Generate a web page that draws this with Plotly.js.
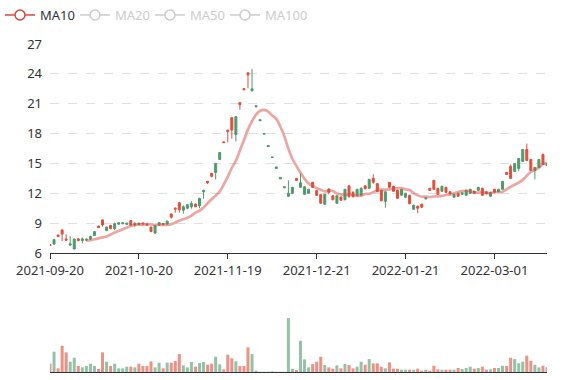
<!DOCTYPE html>
<html><head><meta charset="utf-8">
<script src="https://cdn.plot.ly/plotly-3.0.1.min.js"></script>
<style>html,body{margin:0;padding:0;background:#fff}#chart{width:577px;height:380px}</style>
</head><body><div id="chart"></div>
<script>
// trading calendar: weekdays from 2021-09-20, market holidays skipped
const holidays = ['2022-01-03','2022-01-31','2022-02-01','2022-02-02','2022-02-03','2022-02-04'];
function tradingDays(start, count) {
  const out = [];
  const d = new Date(start + 'T00:00:00Z');
  while (out.length < count) {
    const s = d.toISOString().slice(0, 10);
    const wd = d.getUTCDay();
    if (wd !== 0 && wd !== 6 && holidays.indexOf(s) < 0) out.push(s);
    d.setUTCDate(d.getUTCDate() + 1);
  }
  return out;
}
const dates = tradingDays('2021-09-20', 124);
const xTickDates = ['2021-09-20','2021-10-20','2021-11-19','2021-12-21','2022-01-21','2022-03-01'];

const openP = [6.75,7.35,7.65,7.9,7.28,6.92,7.4,7.24,7.42,7.4,
 7.65,8.15,8.55,8.82,8.6,8.45,8.95,9.05,9.05,9.0,
 8.8,9.0,8.85,8.9,8.8,8.15,8.75,9.05,8.85,9.2,
 9.6,10.4,10.35,10.65,10.85,11.0,10.65,11.5,12.3,13.06,
 13.7,15.0,16.1,17.08,18.2,18.35,19.7,20.9,22.4,23.9,
 22.5,20.8,19.4,18.0,16.8,15.65,14.65,13.6,12.66,12.0,
 12.6,13.3,13.06,12.66,12.4,12.6,11.8,11.0,11.9,12.1,
 11.35,11.75,11.3,12.4,11.65,11.65,12.4,12.5,12.45,13.4,
 13.1,12.16,11.25,12.15,12.6,12.2,11.5,12.4,12.0,10.95,
 10.8,10.5,10.6,11.55,12.3,12.4,11.9,12.7,12.1,11.95,
 11.9,11.7,12.05,12.3,12.4,12.0,12.6,11.8,11.95,12.1,
 12.1,12.4,13.2,13.9,13.5,15.0,15.5,16.4,15.3,14.3,
 14.6,15.4,14.9,15.0];
const highP = [6.9,7.4,7.85,8.4,7.88,7.7,7.45,7.45,7.57,7.45,
 7.75,8.2,8.75,9.35,8.65,8.8,9.05,9.1,9.1,9.05,
 9.3,9.05,9.05,9.02,8.95,8.65,8.8,9.1,9.0,9.25,
 9.95,10.55,11.1,10.8,10.9,11.2,10.95,11.55,12.35,13.22,
 14.05,15.05,16.15,17.18,18.37,19.65,19.75,21.15,22.55,24.15,
 24.5,20.82,19.42,18.02,16.82,15.67,14.67,13.62,12.68,13.3,
 12.65,13.52,14.0,12.7,12.45,13.15,12.3,11.9,11.95,12.5,
 11.8,11.8,11.65,12.45,12.8,12.2,12.45,12.6,12.8,13.45,
 13.9,13.0,12.35,12.2,13.15,12.75,12.35,12.45,12.05,11.85,
 10.85,10.75,10.95,11.6,12.55,13.35,12.55,12.75,12.65,12.2,
 11.95,12.05,12.1,12.35,12.45,12.25,12.65,12.55,12.2,12.15,
 12.45,12.45,13.25,14.15,14.9,15.05,15.55,16.45,17.0,15.45,
 14.65,15.45,16.0,15.05];
const lowP = [6.7,6.8,7.6,7.2,7.25,6.78,6.35,7.2,6.97,7.25,
 7.3,7.7,8.5,8.65,8.2,8.4,8.3,8.85,8.9,8.85,
 8.75,8.65,8.8,8.88,8.75,8.1,7.9,8.75,8.8,8.85,
 9.45,10.05,10.05,9.95,10.4,10.45,10.6,10.5,11.45,12.93,
 13.6,13.4,15.35,17.05,17.1,17.5,17.2,20.4,22.35,22.55,
 22.25,20.68,19.28,17.93,16.68,15.58,14.48,13.43,12.54,11.65,
 11.95,13.28,12.55,11.85,11.95,12.55,11.75,10.95,10.85,11.9,
 11.3,10.95,11.25,11.3,11.6,11.6,11.7,11.75,12.4,12.45,
 12.95,12.1,11.2,10.55,12.55,12.15,11.45,11.75,11.55,10.9,
 10.35,10.0,10.55,11.4,12.25,12.35,11.85,12.15,12.05,11.9,
 11.55,11.65,11.85,11.75,11.95,11.95,12.25,11.75,11.9,11.65,
 12.05,12.1,12.35,13.85,13.45,14.15,14.2,15.15,15.25,14.25,
 13.4,14.55,14.85,14.75];
const closeP = [6.85,6.9,7.8,8.3,7.38,6.8,6.4,7.42,7.25,7.3,
 7.4,7.75,8.7,9.32,8.25,8.78,8.45,8.9,8.95,8.9,
 9.25,8.8,9.0,9.0,8.9,8.6,8.0,8.8,8.95,8.9,
 9.92,10.5,11.05,10.3,10.5,10.65,10.92,10.75,12.15,13.2,
 14.0,14.1,15.4,17.15,18.35,19.6,17.9,21.1,22.5,24.1,
 22.3,20.7,19.3,17.95,16.7,15.6,14.5,13.45,12.56,11.7,
 12.0,13.5,12.6,11.9,12.0,13.1,12.26,11.86,10.9,12.43,
 11.75,11.0,11.63,11.35,12.75,12.1,11.75,11.8,12.75,12.5,
 13.5,12.97,12.3,11.2,13.1,12.7,12.3,11.8,11.6,11.8,
 10.4,10.7,10.9,11.45,12.5,13.3,12.5,12.2,12.6,12.15,
 11.6,12.0,11.9,11.8,12.0,12.2,12.3,12.5,12.15,11.7,
 12.4,12.15,12.4,14.1,14.7,14.2,14.5,15.2,16.4,15.4,
 14.3,14.6,15.9,14.8];
const volume = [25,61,11,79,59,31,43,18,14,18,
 25,18,9,59,31,18,25,11,11,16,
 16,14,25,18,18,32,14,28,11,28,
 28,33,54,20,14,30,16,27,30,22,
 25,46,23,8,52,41,32,18,18,74,
 54,4,1,1,1,2,1,1,1,162,
 9,6,94,38,14,24,31,46,21,14,
 10,20,11,24,21,11,16,31,22,39,
 26,26,16,11,29,10,10,7,7,7,
 7,10,4,7,4,19,8,7,7,7,
 7,12,9,12,16,10,12,16,7,8,
 12,12,19,18,43,39,26,31,49,34,
 22,14,19,14];

const maWindow = 10;
const ma10 = closeP.map((c, i) => {
  if (i < maWindow - 1) return null;
  let s = 0;
  for (let k = i - maWindow + 1; k <= i; k++) s += closeP[k];
  return +(s / maWindow).toFixed(3);
});

const UP = '#de4f3b', DOWN = '#4f9a6c';
const UP_VOL = 'rgba(222,79,59,0.62)', DOWN_VOL = 'rgba(79,154,108,0.6)';
const volColors = closeP.map((c, i) => c >= openP[i] ? UP_VOL : DOWN_VOL);

const legendIcon = (col) => ({line:{color:col, width:1.5},
  marker:{symbol:'circle', size:10, color:'#fff', line:{color:col, width:1.5}}});

const traces = [
  {type:'candlestick', x:dates, open:openP, high:highP, low:lowP, close:closeP,
   xaxis:'x', yaxis:'y', showlegend:false, whiskerwidth:0,
   increasing:{line:{color:UP, width:1}, fillcolor:UP},
   decreasing:{line:{color:DOWN, width:1}, fillcolor:DOWN},
   hoverinfo:'skip'},
  {type:'scatter', mode:'lines', x:dates, y:ma10, xaxis:'x', yaxis:'y',
   line:{color:'rgba(214,80,70,0.5)', width:2.7, shape:'spline', smoothing:0.8},
   showlegend:false, legendgroup:'ma10', hoverinfo:'skip'},
  {type:'bar', x:dates, y:volume, xaxis:'x2', yaxis:'y2',
   marker:{color:volColors, line:{width:0}}, showlegend:false, hoverinfo:'skip'},
  // legend entries (MA10 active, the others switched off as in the source)
  Object.assign({type:'scatter', mode:'lines+markers', x:[null], y:[null], name:'MA10', legendgroup:'ma10'}, legendIcon('#d9473a')),
  Object.assign({type:'scatter', mode:'lines+markers', x:[null], y:[null], name:'<span style="color:#cccccc">MA20</span>'}, legendIcon('#cccccc')),
  Object.assign({type:'scatter', mode:'lines+markers', x:[null], y:[null], name:'<span style="color:#cccccc">MA50</span>'}, legendIcon('#cccccc')),
  Object.assign({type:'scatter', mode:'lines+markers', x:[null], y:[null], name:'<span style="color:#cccccc">MA100</span>', legendwidth:48}, legendIcon('#cccccc'))
];

const layout = {
  width:577, height:380,
  margin:{l:50, r:30, t:0, b:0},
  paper_bgcolor:'#fff', plot_bgcolor:'#fff',
  font:{family:'"Noto Sans", "DejaVu Sans", sans-serif', size:12, color:'#333'},
  showlegend:true,
  legend:{orientation:'h', x:-0.1006, xanchor:'left', y:1.001, yanchor:'top',
          entrywidth:30, entrywidthmode:'pixels',
          font:{size:13, color:'#333'}, itemwidth:30, bgcolor:'rgba(0,0,0,0)', itemclick:false},
  bargap:0.25,
  xaxis:{type:'category', anchor:'y', domain:[0,1], range:[0, dates.length - 1],
         rangeslider:{visible:false}, tickmode:'array', tickvals:xTickDates, ticktext:xTickDates,
         ticks:'outside', ticklen:5, tickcolor:'#333', showline:true, linecolor:'#333', linewidth:1,
         showgrid:false, zeroline:false, tickfont:{size:13, color:'#333'}},
  yaxis:{anchor:'x', domain:[0.3342, 0.8842], range:[6, 27], tick0:6, dtick:3,
         showgrid:true, gridcolor:'#e0e0e0', griddash:'dash', gridwidth:1, zeroline:false,
         showline:false, ticks:'', tickfont:{size:13, color:'#333'}, ticklabelstandoff:7},
  xaxis2:{type:'category', anchor:'y2', domain:[0,1], matches:'x', rangeslider:{visible:false},
          showticklabels:false, ticks:'', showline:true, linecolor:'#333', linewidth:1,
          showgrid:false, zeroline:false},
  yaxis2:{anchor:'x2', domain:[0.021, 0.184], range:[0, 186], showticklabels:false,
          showgrid:false, zeroline:false, showline:false, ticks:''}
};

Plotly.newPlot('chart', traces, layout, {staticPlot:true, displayModeBar:false});
</script>
</body></html>
